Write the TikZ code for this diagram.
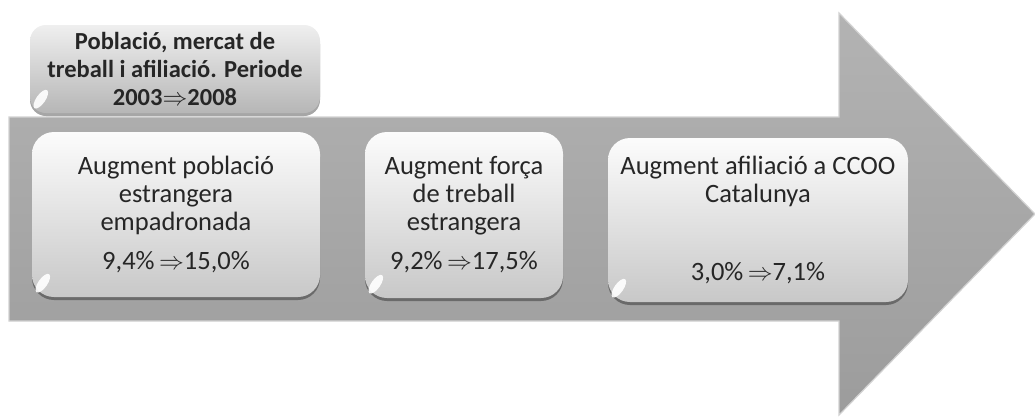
\documentclass[tikz,border=0pt]{standalone}
\usepackage{fontspec}
\setmainfont{Carlito}
\usetikzlibrary{shadows}
\definecolor{arrowtop}{HTML}{B3B3B3}
\definecolor{arrowbot}{HTML}{9C9C9C}
\definecolor{arrowedge}{HTML}{D2D2D2}
\definecolor{boxtop}{HTML}{FCFCFC}
\definecolor{boxbot}{HTML}{C8C8C8}
\definecolor{titletop}{HTML}{EFEFEF}
\definecolor{titlebot}{HTML}{B6B6B6}
\definecolor{textcol}{HTML}{262626}
\tikzset{
  bigarrow/.style={top color=arrowtop, bottom color=arrowbot, draw=arrowedge, line width=1.2pt, line join=miter},
  infobox/.style={rounded corners=22pt, top color=boxtop, bottom color=boxbot, draw=none,
    align=center, text=textcol, inner sep=0pt,
    font=\fontsize{26.5}{28}\selectfont,
    drop shadow={shadow xshift=0pt, shadow yshift=-3pt, opacity=0.35, fill=black}},
  titlebox/.style={infobox, rounded corners=16pt, top color=titletop, bottom color=titlebot,
    font=\bfseries\fontsize{24.5}{28}\selectfont},
  gloss/.style={white, opacity=0.9}
}
\begin{document}
\begin{tikzpicture}[x=1pt,y=-1pt]
\useasboundingbox (0,0) rectangle (1035,418);
\fill[white] (0,0) rectangle (1035,418);
% big arrow
\draw[bigarrow] (9,117) -- (839,117) -- (839,13) -- (1035,214) -- (839,415) -- (839,321) -- (9,321) -- cycle;
% title box
\node[titlebox, minimum width=290pt, minimum height=88pt] (title) at (175,69)
  {Població, mercat de\\treball i afiliació. Periode\\2003$\Rightarrow$2008};
% three boxes
\node[infobox, minimum width=288pt, minimum height=165pt] (b1) at (176,214.5)
  {Augment població\\estrangera\\empadronada\\[11pt]9,4\%\,$\Rightarrow$15,0\%};
\node[infobox, minimum width=198pt, minimum height=166pt] (b2) at (464,215)
  {Augment força\\de treball\\estrangera\\[11pt]9,2\%\,$\Rightarrow$17,5\%};
\node[infobox, minimum width=300pt, minimum height=164pt] (b3) at (758,220)
  {Augment afiliació a CCOO\\Catalunya\\[50pt]3,0\%\,$\Rightarrow$7,1\%};
% gloss highlights at lower-left corners
\foreach \n in {title,b1,b2,b3}{
  \fill[gloss] ([xshift=11pt,yshift=14pt]\n.south west) ellipse [x radius=4.5pt, y radius=11pt, rotate=-35];
}
\end{tikzpicture}
\end{document}
